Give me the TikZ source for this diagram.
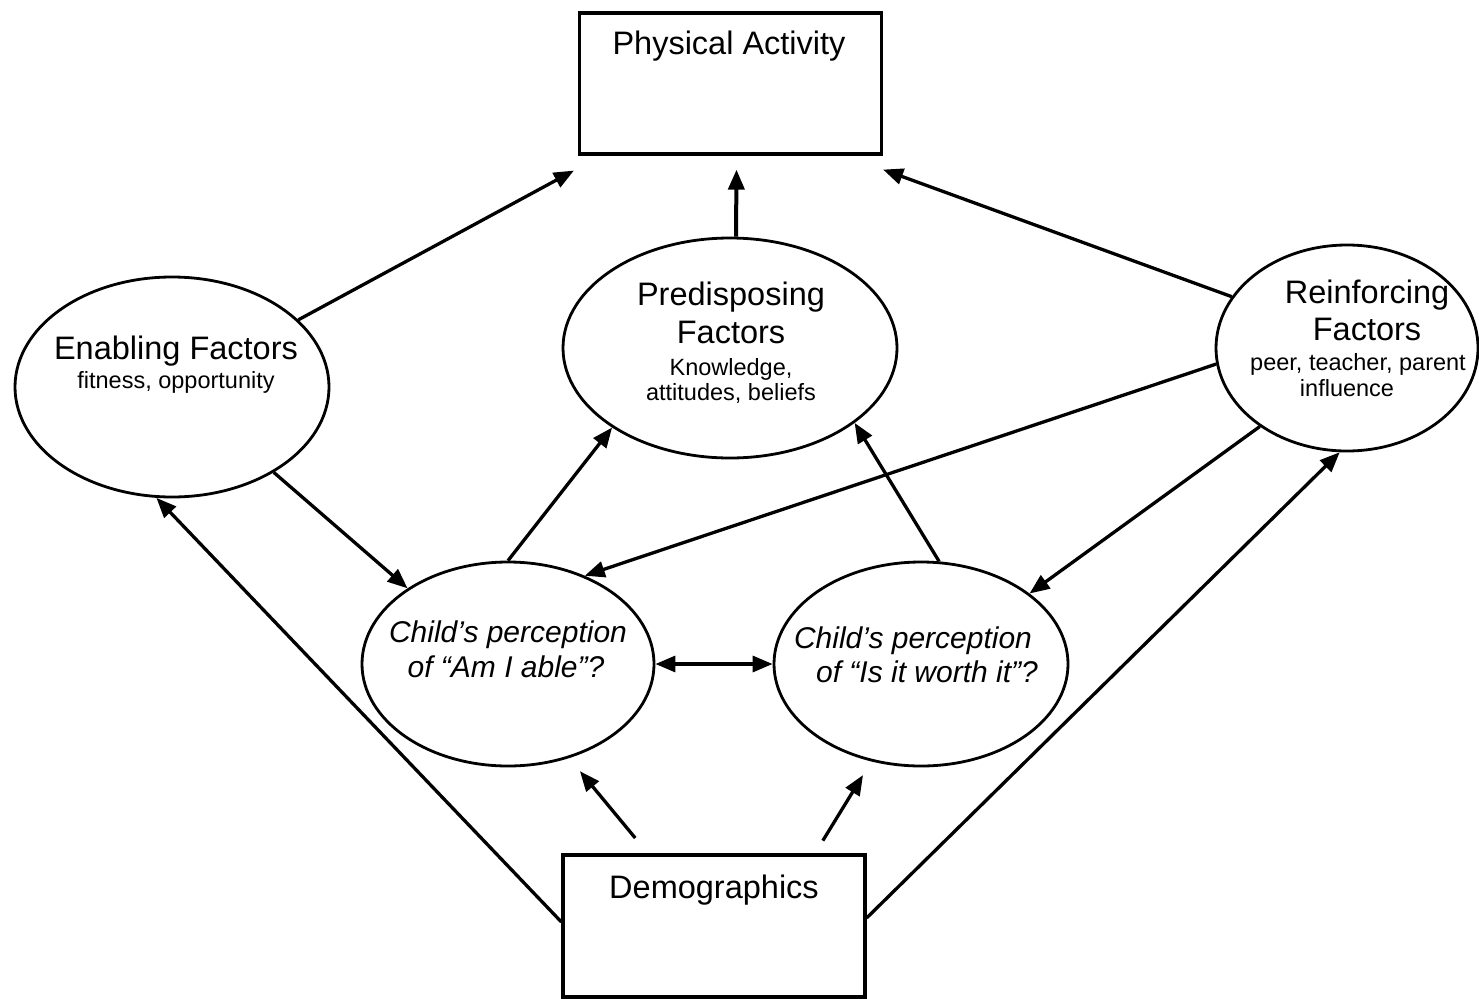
\documentclass[tikz,border=0pt]{standalone}
\usepackage{fontspec}
\setmainfont{Liberation Sans}
\usetikzlibrary{shapes.geometric,arrows.meta}
\tikzset{
  box/.style={draw, line width=3.2pt, rectangle, inner sep=0pt},
  oval/.style={draw, line width=2.8pt, ellipse, inner sep=0pt},
  big/.style={anchor=base, inner sep=0pt, font=\fontsize{32.5}{36}\selectfont},
  small/.style={anchor=base, inner sep=0pt, font=\fontsize{23.5}{26}\selectfont},
  ital/.style={anchor=base, inner sep=0pt, font=\fontsize{30}{34}\selectfont\itshape},
  arr/.style={line width=3.3pt, -{Triangle[length=20pt,width=16pt]}},
  dbl/.style={line width=3.3pt, {Triangle[length=20pt,width=16pt]}-{Triangle[length=20pt,width=16pt]}},
}
\begin{document}
\begin{tikzpicture}[x=1pt,y=-1pt]
\useasboundingbox (0,0) rectangle (1479,998);
% boxes
\node[box, minimum width=302pt, minimum height=141pt] (pa) at (730.5,83.5) {};
\node[box, minimum width=302pt, minimum height=142pt] (dm) at (714,926) {};
% ellipses
\node[oval, minimum width=314pt, minimum height=220pt] (en) at (172,387) {};
\node[oval, minimum width=334pt, minimum height=220pt] (pd) at (730,348) {};
\node[oval, minimum width=262pt, minimum height=206pt] (rf) at (1347,348) {};
\node[oval, minimum width=292pt, minimum height=204pt] (ab) at (508,664) {};
\node[oval, minimum width=294pt, minimum height=204pt] (wi) at (921,664) {};
% texts
\node[big] (tpa) at (729,55) {Physical Activity};
\node[big] (tdm) at (714,898) {Demographics};
\node[big] (ten1) at (176,359) {Enabling Factors};
\node[small] (ten2) at (176,388) {fitness, opportunity};
\node[big] (tpd1) at (731,305) {Predisposing};
\node[big] (tpd2) at (731,343) {Factors};
\node[small] (tpd3) at (731,375) {Knowledge,};
\node[small] (tpd4) at (731,400) {attitudes, beliefs};
\node[big] (trf1) at (1367,303) {Reinforcing};
\node[big] (trf2) at (1367,340) {Factors};
\node[small] (trf3) at (1358,370) {peer, teacher, parent};
\node[small] (trf4) at (1347,396) {influence};
\node[ital] (tab1) at (508,642) {Child’s perception};
\node[ital] (tab2) at (506,677) {of “Am I able”?};
\node[ital] (twi1) at (913,648) {Child’s perception};
\node[ital] (twi2) at (927,682) {of “Is it worth it”?};
% connectors to Physical Activity
\draw[arr] (en.28) -- ([xshift=-4pt,yshift=-15pt]pa.south west);
\draw[arr, line width=4pt] ([xshift=6pt]pd.north) -- ([xshift=6pt,yshift=-14pt]pa.south);
\draw[arr] (rf.156) -- ([yshift=-14pt]pa.south east);
% to perceptions
\draw[arr] (en.-40) -- (ab.143);
\draw[arr] (rf.187) -- (ab.49);
\draw[arr] (rf.222) -- (wi.33);
\draw[arr] (ab.north) -- (pd.214);
\draw[arr] (wi.80) -- (pd.-31);
\draw[dbl] (ab.east) -- (wi.west);
% from demographics
\draw[arr, shorten <=20pt, shorten >=17pt] ([xshift=-66pt]dm.north) -- (ab.-57);
\draw[arr, shorten <=15pt, shorten >=16pt] ([xshift=101pt]dm.north) -- (wi.243.7);
\draw[arr] ([yshift=4pt]dm.west) -- (en.262);
\draw[arr] ([yshift=8pt]dm.east) -- (rf.266);
\end{tikzpicture}
\end{document}
